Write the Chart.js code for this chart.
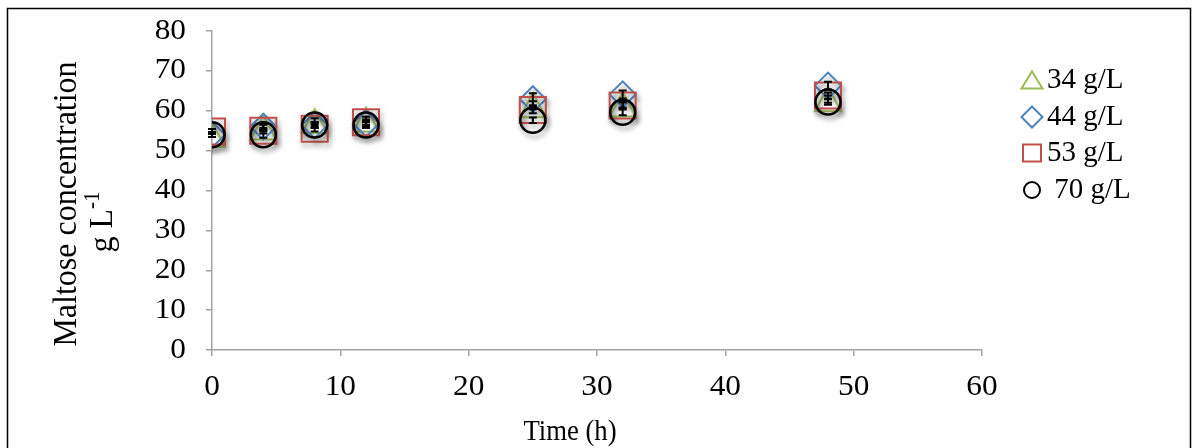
<!DOCTYPE html>
<html><head><meta charset="utf-8">
<script src="https://cdn.jsdelivr.net/npm/chart.js@4.4.1/dist/chart.umd.min.js"></script>
<style>html,body{margin:0;padding:0;background:#fff;overflow:hidden}#wrap{width:1198px;height:448px;position:relative}canvas{display:block}</style>
</head><body>
<div id="wrap"><canvas id="c" width="1198" height="448"></canvas></div>
<script>
// ---- data ----
const timeHours = [0, 4, 8, 12, 25, 32, 48];
const seriesLabels = ['34 g/L', '44 g/L', '53 g/L', ' 70 g/L'];
const maltose34 = [54.0, 55.8, 57.4, 57.8, 61.4, 61.6, 62.9];
const maltose44 = [54.0, 56.0, 56.4, 56.8, 62.9, 64.1, 66.3];
const maltose53 = [54.8, 55.0, 55.5, 57.1, 60.2, 61.3, 63.8];
const maltose70 = [54.0, 54.0, 56.4, 56.4, 57.6, 59.6, 62.2];
const err34 = [0.6, 0.7, 0.7, 0.7, 1.0, 0.8, 0.9];
const err44 = [0.6, 0.7, 0.7, 0.7, 1.5, 1.0, 1.0];
const err53 = [0.6, 0.7, 0.7, 0.7, 0.8, 0.8, 0.8];
const err70 = [0.6, 0.8, 0.7, 0.7, 0.7, 0.7, 0.7];
const xTickValues = [0, 10, 20, 30, 40, 50, 60];
const yTickValues = [0, 10, 20, 30, 40, 50, 60, 70, 80];
const xTitle = 'Time (h)';
const yTitleLine1 = 'Maltose concentration';
const yTitleLine2 = 'g L';
const yTitleSup = '-1';

// ---- styles ----
const FONT = '"Liberation Serif", "Times New Roman", serif';
const GREEN = '#9BBB59', BLUE = '#4F81BD', RED = '#C0504D', BLACK = '#000000';
const AXIS = '#a3a3a3';

function triCanvas(w, h, color, lw) {
  const cv = document.createElement('canvas');
  cv.width = w + 4; cv.height = h + 4;
  const c = cv.getContext('2d');
  c.strokeStyle = color; c.lineWidth = lw; c.lineJoin = 'miter';
  c.beginPath();
  c.moveTo(cv.width / 2, 2);
  c.lineTo(cv.width - 2, cv.height - 2);
  c.lineTo(2, cv.height - 2);
  c.closePath(); c.stroke();
  return cv;
}

function pts(arr) { return timeHours.map((t, i) => ({ x: t, y: arr[i] })); }

function sText(ctx, text, x, y, align, font, sx) {
  ctx.save();
  ctx.font = font;
  ctx.textBaseline = 'middle';
  ctx.textAlign = 'left';
  const w = ctx.measureText(text).width * sx;
  const left = align === 'center' ? x - w / 2 : align === 'right' ? x - w : x;
  ctx.translate(left, y);
  ctx.scale(sx, 1);
  ctx.fillStyle = '#000';
  ctx.fillText(text, 0, 0);
  ctx.restore();
}

const errorSets = [err34, err44, err53, err70];
const valueSets = [maltose34, maltose44, maltose53, maltose70];

const custom = {
  id: 'custom',
  beforeDatasetsDraw(chart) {
    const c = chart.ctx;
    c.save();
    c.shadowColor = 'rgba(0,0,0,0.35)';
    c.shadowBlur = 5;
    c.shadowOffsetX = 2;
    c.shadowOffsetY = 4;
  },
  afterDatasetsDraw(chart) {
    const c = chart.ctx;
    c.restore();
    const xs = chart.scales.x, ys = chart.scales.y;
    c.save();
    c.strokeStyle = '#000'; c.lineWidth = 2;
    valueSets.forEach((vals, k) => {
      vals.forEach((v, j) => {
        const px = xs.getPixelForValue(timeHours[j]);
        const yt = ys.getPixelForValue(v + errorSets[k][j]);
        const yb = ys.getPixelForValue(v - errorSets[k][j]);
        c.beginPath();
        c.moveTo(px, yt); c.lineTo(px, yb);
        c.moveTo(px - 4, yt); c.lineTo(px + 4, yt);
        c.moveTo(px - 4, yb); c.lineTo(px + 4, yb);
        c.stroke();
      });
    });
    c.restore();
  },
  afterDraw(chart) {
    const c = chart.ctx;
    const xs = chart.scales.x, ys = chart.scales.y;
    const tickFont = '29px ' + FONT;
    // tick labels
    yTickValues.forEach(v => sText(c, String(v), 186, ys.getPixelForValue(v), 'right', tickFont, 1.08));
    xTickValues.forEach(v => sText(c, String(v), xs.getPixelForValue(v), 387, 'center', tickFont, 1.08));
    // x title
    sText(c, xTitle, 570, 432, 'center', tickFont, 0.92);
    // y title (rotated)
    c.save();
    c.fillStyle = '#000';
    c.textBaseline = 'alphabetic';
    c.textAlign = 'left';
    const f1 = '32px ' + FONT;
    c.font = f1;
    const w1 = c.measureText(yTitleLine1).width;
    c.translate(76, 204);
    c.rotate(-Math.PI / 2);
    c.scale(1, 1.05);
    c.fillText(yTitleLine1, -w1 / 2, 0);
    c.restore();
    c.save();
    c.fillStyle = '#000';
    c.textBaseline = 'alphabetic';
    c.textAlign = 'left';
    c.font = f1;
    const w2 = c.measureText(yTitleLine2).width;
    c.font = '21px ' + FONT;
    const w3 = c.measureText(yTitleSup).width;
    const tot = w2 + w3;
    c.translate(112, 222);
    c.rotate(-Math.PI / 2);
    c.scale(1, 1.05);
    c.font = f1;
    c.fillText(yTitleLine2, -tot / 2, 0);
    c.font = '21px ' + FONT;
    c.fillText(yTitleSup, -tot / 2 + w2, -12);
    c.restore();
    // legend
    const rows = [80, 117, 153, 190];
    const mx = 1032;
    c.save();
    c.lineWidth = 2;
    c.strokeStyle = GREEN;
    c.beginPath();
    c.moveTo(mx, rows[0] - 8.5); c.lineTo(mx + 10.5, rows[0] + 8.5); c.lineTo(mx - 10.5, rows[0] + 8.5); c.closePath(); c.stroke();
    c.strokeStyle = BLUE;
    c.beginPath();
    c.moveTo(mx, rows[1] - 10.5); c.lineTo(mx + 10.5, rows[1]); c.lineTo(mx, rows[1] + 10.5); c.lineTo(mx - 10.5, rows[1]); c.closePath(); c.stroke();
    c.strokeStyle = RED;
    c.strokeRect(mx - 9, rows[2] - 8.5, 18, 17);
    c.strokeStyle = BLACK;
    c.beginPath(); c.arc(mx, rows[3], 8, 0, Math.PI * 2); c.stroke();
    c.restore();
    chart.data.datasets.forEach((ds, i) => {
      sText(c, ds.label, 1047, rows[i], 'left', tickFont, 1.0);
    });
    // outer border
    c.save();
    c.strokeStyle = '#000'; c.lineWidth = 1.5;
    c.beginPath();
    c.moveTo(7.5, 460); c.lineTo(7.5, 8.5); c.lineTo(1190.5, 8.5); c.lineTo(1190.5, 460);
    c.stroke();
    c.restore();
  }
};

function axisCommon() {
  return {
    ticks: { display: false },
    grid: { display: true, drawOnChartArea: false, drawTicks: true, tickLength: 6, color: AXIS, lineWidth: 1.5 },
    border: { display: true, color: AXIS, width: 1.5 }
  };
}

function build() {
  const ctx = document.getElementById('c').getContext('2d');
  new Chart(ctx, {
    type: 'scatter',
    data: {
      datasets: [
        { label: seriesLabels[0], data: pts(maltose34), order: 3,
          pointStyle: triCanvas(26, 24, GREEN, 2), pointRadius: 13, showLine: false },
        { label: seriesLabels[1], data: pts(maltose44), order: 2,
          pointStyle: 'rectRot', pointRadius: 13, borderColor: BLUE, backgroundColor: 'rgba(0,0,0,0)', borderWidth: 2, showLine: false },
        { label: seriesLabels[2], data: pts(maltose53), order: 1,
          pointStyle: 'rect', pointRadius: 18.4, borderColor: RED, backgroundColor: 'rgba(0,0,0,0)', borderWidth: 2, showLine: false },
        { label: seriesLabels[3], data: pts(maltose70), order: 0,
          pointStyle: 'circle', pointRadius: 12.5, borderColor: BLACK, backgroundColor: 'rgba(0,0,0,0)', borderWidth: 2.5, showLine: false }
      ]
    },
    options: {
      responsive: false,
      animation: false,
      devicePixelRatio: 1,
      layout: { padding: { top: 31, right: 216, left: 0, bottom: 0 } },
      plugins: { legend: { display: false }, tooltip: { enabled: false } },
      scales: {
        x: Object.assign(axisCommon(), {
          type: 'linear', min: 0, max: 60,
          afterBuildTicks: s => { s.ticks = xTickValues.map(v => ({ value: v })); },
          afterFit: s => { s.height = 98; }
        }),
        y: Object.assign(axisCommon(), {
          type: 'linear', min: 0, max: 80,
          afterBuildTicks: s => { s.ticks = yTickValues.map(v => ({ value: v })); },
          afterFit: s => { s.width = 212; }
        })
      }
    },
    plugins: [custom]
  });
}

if (document.fonts && document.fonts.load) {
  Promise.all([document.fonts.load('29px "Liberation Serif"'), document.fonts.load('32px "Liberation Serif"')]).then(build, build);
} else { build(); }
</script>
</body></html>
